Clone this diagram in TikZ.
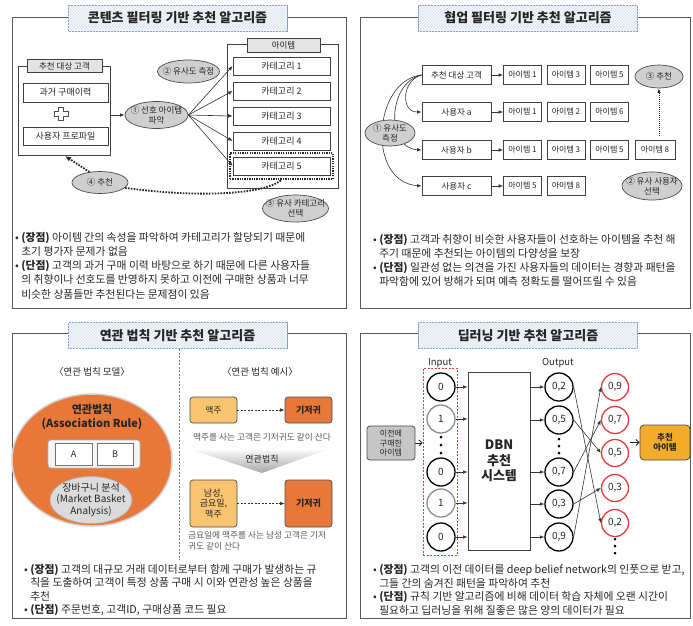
\documentclass[tikz,border=0pt]{standalone}
\usepackage{fontspec}
\setmainfont{Noto Sans CJK KR}
\usetikzlibrary{arrows.meta,shapes.geometric,patterns,calc}
\definecolor{ttlfill}{HTML}{E1E8F0}
\definecolor{ttldraw}{HTML}{7E9DC2}
\definecolor{ellfill}{HTML}{CFCFCF}
\definecolor{orng}{HTML}{E8783A}
\definecolor{lorng}{HTML}{F8C470}
\definecolor{goldc}{HTML}{F2AC2C}
\definecolor{redc}{HTML}{E63B3B}
\definecolor{txt}{HTML}{262626}
\newcommand{\fsz}[2]{\fontsize{#1}{#2}\selectfont}
\begin{document}
\begin{tikzpicture}[x=1pt,y=-1pt,
  every node/.style={text=txt, font=\fsz{9}{11}},
  panel/.style={draw=black!65, line width=0.9pt},
  ttl/.style={draw=ttldraw, line width=0.9pt, fill=ttlfill,
    postaction={pattern=north east lines, pattern color=white},
    minimum width=219, minimum height=26, inner sep=0, font=\bfseries\fsz{13}{15}},
  bx/.style={draw=black!75, fill=white, line width=0.7pt, inner sep=0},
  glbl/.style={draw=black!75, fill=gray!22, line width=0.7pt, inner sep=0},
  gel/.style={ellipse, draw=black!70, fill=ellfill, line width=0.7pt, inner sep=0},
  elt/.style={font=\fsz{8.5}{10}, align=center, text=txt, inner sep=0},
  arr/.style={-{Latex[length=4.5pt,width=3.5pt]}, line width=0.6pt, draw=black!80},
  dotln/.style={line width=1.8pt, dash pattern=on 1.6pt off 1.3pt, draw=black!85},
  bul/.style={anchor=north west, align=left, inner sep=0, font=\fsz{10.8}{14.2}},
  cat/.style={bx, minimum width=97, minimum height=18, font=\fsz{9}{11}},
  usr/.style={bx, minimum width=69, minimum height=19, font=\fsz{8.5}{10}},
  itm/.style={bx, minimum width=38, minimum height=19, font=\fsz{8}{10}},
  nc/.style={circle, draw=black, line width=1.3pt, minimum size=28, inner sep=0, fill=white, font=\fsz{10}{12}},
  nc1/.style={nc, draw=black!45},
  rc/.style={nc, draw=redc, minimum size=27},
  dsh/.style={-{Latex[length=4.5pt,width=3.5pt]}, line width=0.6pt, draw=black!80, dash pattern=on 2pt off 1.5pt},
  opn/.style={-{Straight Barb[length=3pt,width=6pt]}, line width=0.9pt, draw=black!85}
]
\useasboundingbox (0,0) rectangle (693,625);
\fill[white] (0,0) rectangle (693,625);

% ================= Panel 1 =================
\draw[panel] (12,17) rectangle (346,308);
\node[ttl] (t1) at (177.5,18) {콘텐츠 필터링 기반 추천 알고리즘};

\node[bx, minimum width=92, minimum height=89] (grp) at (64,110.5) {};
\node[glbl, minimum width=75, minimum height=12.5, font=\fsz{8.5}{10}] (grpl) at (64.5,66) {추천 대상 고객};
\node[bx, minimum width=85, minimum height=19, font=\fsz{9}{11}] (past) at (65.5,92.5) {과거 구매이력};
\node[bx, minimum width=85, minimum height=18, font=\fsz{9}{11}] (prof) at (65.5,136) {사용자 프로파일};
\draw[black!70, line width=0.7pt, fill=white] (58.5,107.5) -- (63.5,107.5) -- (63.5,111.5) -- (68,111.5) -- (68,116.5) -- (63.5,116.5) -- (63.5,120.5) -- (58.5,120.5) -- (58.5,116.5) -- (54,116.5) -- (54,111.5) -- (58.5,111.5) -- cycle;

\node[gel, minimum width=63, minimum height=27, label={[elt]center:{① 선호 아이템\\파악}}] (e1) at (156.5,115) {};
\node[gel, minimum width=62, minimum height=23, label={[elt]center:{② 유사도 측정}}] (e2) at (188.5,71.5) {};
\draw[arr] (grp.east |- e1) -- (e1.west);

\node[bx, minimum width=111, minimum height=144] (igrp) at (282.5,116) {};
\node[glbl, minimum width=73, minimum height=14, font=\fsz{8.5}{10}] (igrpl) at (283.5,45) {아이템};
\node[cat] (c1) at (281.5,66) {카테고리 1};
\node[cat] (c2) at (281.5,91) {카테고리 2};
\node[cat] (c3) at (281.5,116) {카테고리 3};
\node[cat] (c4) at (281.5,141) {카테고리 4};
\node[cat] (c5) at (281.5,166) {카테고리 5};
\node[draw=black!85, line width=1.6pt, dash pattern=on 1.3pt off 1.1pt, minimum width=103, minimum height=26, inner sep=0] (c5d) at (281.5,166) {};
\foreach \c in {c1,c2,c3,c4,c5} \draw[arr] (e1.east) -- (\c.west);

\node[gel, minimum width=56, minimum height=22, label={[elt]center:{④ 추천}}] (e4) at (100,182.5) {};
\node[gel, minimum width=66, minimum height=27, label={[elt]center:{③ 유사 카테고리\\선택}}] (e3) at (295.5,208.5) {};
\coordinate (g4) at (65,156);
\draw[dotln, -{Latex[length=6pt,width=5pt]}] (e4.135) -- (g4);
\draw[dotln] (e4.-12) .. controls (190,197) and (262,196) .. (c5d.south);

\node[bul] (b1) at (15,232) {• \textbf{(장점)} 아이템 간의 속성을 파악하여 카테고리가 할당되기 때문에\\
\phantom{• }초기 평가자 문제가 없음\\
• \textbf{(단점)} 고객의 과거 구매 이력 바탕으로 하기 때문에 다른 사용자들\\
\phantom{• }의 취향이나 선호도를 반영하지 못하고 이전에 구매한 상품과 너무\\
\phantom{• }비슷한 상품들만 추천된다는 문제점이 있음};

% ================= Panel 2 =================
\draw[panel] (360,17) rectangle (690,308);
\node[ttl] (t2) at (528,18) {협업 필터링 기반 추천 알고리즘};

\node[draw=black!75, line width=0.6pt, double, double distance=1.3pt, minimum width=262, minimum height=26, inner sep=0] (rowb) at (549,150) {};
\node[usr] (ut) at (456.5,75) {추천 대상 고객};
\node[usr] (ua) at (456.5,112) {사용자 a};
\node[usr] (ub) at (456.5,150) {사용자 b};
\node[usr] (uc) at (456.5,186) {사용자 c};
\node[itm] (t1i) at (522.5,75) {아이템 1};
\node[itm] (t2i) at (566,75) {아이템 3};
\node[itm] (t3i) at (609.5,75) {아이템 5};
\node[itm] (a1i) at (522.5,112) {아이템 1};
\node[itm] (a2i) at (566,112) {아이템 2};
\node[itm] (a3i) at (609.5,112) {아이템 6};
\node[itm] (b1i) at (522.5,150) {아이템 1};
\node[itm] (b2i) at (566,150) {아이템 3};
\node[itm] (b3i) at (609.5,150) {아이템 5};
\node[itm, minimum width=40] (b4i) at (655,150) {아이템 8};
\node[itm] (c1i) at (522.5,186) {아이템 5};
\node[itm] (c2i) at (566,186) {아이템 8};
\draw[arr] (ut.east) -- (t1i.west);
\draw[arr] (ua.east) -- (a1i.west);
\draw[arr] (ub.east) -- (b1i.west);
\draw[arr] (uc.east) -- (c1i.west);

\draw[arr] (ut.west) .. controls (402,80) and (400,112) .. (ua.west);
\draw[arr] (ut.west) .. controls (388,82) and (385,148) .. (ub.west);
\draw[arr] (ut.west) .. controls (373,80) and (366,182) .. (uc.west);
\node[gel, minimum width=50, minimum height=26, label={[elt]center:{① 유사도\\측정}}] (f1) at (390,133) {};

\node[gel, minimum width=48, minimum height=23, label={[elt]center:{③ 추천}}] (f3) at (659,76.5) {};
\node[gel, minimum width=60, minimum height=28, label={[elt]center:{② 유사 사용자\\선택}}] (f2) at (652,186) {};
\coordinate (rbtop) at (659,135.5);
\draw[-{Latex[length=4.5pt,width=3.5pt]}, line width=0.8pt, dash pattern=on 1pt off 1pt, draw=black!85] (rbtop) -- (f3.south);

\node[bul] (b2) at (373,234) {• \textbf{(장점)} 고객과 취향이 비슷한 사용자들이 선호하는 아이템을 추천 해\\
\phantom{• }주기 때문에 추천되는 아이템의 다양성을 보장\\
• \textbf{(단점)} 일관성 없는 의견을 가진 사용자들의 데이터는 경향과 패턴을\\
\phantom{• }파악함에 있어 방해가 되며 예측 정확도를 떨어뜨릴 수 있음};

% ================= Panel 3 =================
\draw[panel] (12,333) rectangle (346,618);
\node[ttl] (t3) at (177.5,335.5) {연관 법칙 기반 추천 알고리즘};
\draw[black!50, line width=0.7pt, dash pattern=on 2pt off 1.5pt] (179,349) -- (179,560);
\node[font=\fsz{9.5}{11}] (h1) at (92,372) {〈연관 법칙 모델〉};
\node[font=\fsz{9.5}{11}] (h2) at (260,372) {〈연관 법칙 예시〉};

\node[ellipse, fill=orng, draw=gray!35, line width=1.5pt, minimum width=160, minimum height=132] (big) at (92,460) {};
\node[font=\bfseries\fsz{11}{14}, align=center] (bigt) at (92,417) {연관법칙\\(Association Rule)};
\node[draw=gray!60, fill=gray!8, rounded corners=3pt, line width=0.8pt, minimum width=92, minimum height=28, inner sep=0] (abf) at (94,454) {};
\node[draw=black!55, fill=white, line width=0.7pt, minimum width=37, minimum height=22, inner sep=0] (ba) at (73.5,454) {A};
\node[draw=black!55, fill=white, line width=0.7pt, minimum width=36, minimum height=22, inner sep=0] (bb) at (115,454) {B};
\node[ellipse, fill=gray!28, draw=gray!60, line width=0.8pt, minimum width=82, minimum height=47, inner sep=0,
  label={[font=\fsz{10}{11.5}, align=center, inner sep=0]center:{장바구니 분석\\(Market Basket\\Analysis)}}] (mba) at (91,500) {};

\node[draw=black!70, fill=lorng, rounded corners=3pt, line width=0.7pt, minimum width=47, minimum height=26, inner sep=0, font=\fsz{8.5}{10}] (beer) at (213.5,410) {맥주};
\node[draw=black!70, fill=orng, rounded corners=3pt, line width=0.7pt, minimum width=47, minimum height=26, inner sep=0, font=\bfseries\fsz{9}{10}] (dia) at (308.5,410) {기저귀};
\draw[dsh] (beer.east) -- (dia.west);
\node[font=\fsz{8.7}{10}, text=black!65] (cap1) at (262,437) {맥주를 사는 고객은 기저귀도 같이 산다};
\shade[top color=gray!5, bottom color=gray!70] (193,450) -- (326,450) -- (262,473) -- cycle;
\node[font=\fsz{9}{10}] (rule) at (262,459) {연관법칙};
\node[draw=black!70, fill=lorng, rounded corners=3pt, line width=0.7pt, minimum width=47, minimum height=47, inner sep=0, font=\fsz{9}{10.5}, align=center] (mfb) at (213.5,503.5) {남성,\\금요일,\\맥주};
\node[draw=black!70, fill=orng, rounded corners=3pt, line width=0.7pt, minimum width=47, minimum height=47, inner sep=0, font=\bfseries\fsz{9}{10}] (dia2) at (308.5,503.5) {기저귀};
\draw[dsh] (mfb.east) -- (dia2.west);
\node[anchor=north west, align=left, inner sep=0, font=\fsz{8.7}{11}, text=black!65] (cap2) at (188,531) {금요일에 맥주를 사는 남성 고객은 기저\\귀도 같이 산다};

\node[bul, font=\fsz{10.8}{13.5}] (b3) at (24,564) {• \textbf{(장점)} 고객의 대규모 거래 데이터로부터 함께 구매가 발생하는 규\\
\phantom{• }칙을 도출하여 고객이 특정 상품 구매 시 이와 연관성 높은 상품을\\
\phantom{• }추천\\
• \textbf{(단점)} 주문번호, 고객ID, 구매상품 코드 필요};

% ================= Panel 4 =================
\draw[panel] (360,333) rectangle (690,618);
\node[ttl] (t4) at (528,335.5) {딥러닝 기반 추천 알고리즘};
\node[font=\fsz{9.5}{11}] (inl) at (440,363) {Input};
\node[font=\fsz{9.5}{11}] (outl) at (558,363) {Output};
\node[draw=redc, line width=0.7pt, dash pattern=on 2pt off 1.5pt, minimum width=34, minimum height=187, inner sep=0] (inbox) at (440,461.5) {};
\node[nc] (i1) at (441,387) {0};
\node[nc1] (i2) at (441,419) {1};
\node[nc] (i3) at (441,472) {0};
\node[nc1] (i4) at (441,503) {1};
\node[nc] (i5) at (441,537) {0};
\foreach \yy in {437,445,453} \fill[black] (441,\yy) circle (1.5);

\node[draw=black!75, line width=0.8pt, minimum width=62, minimum height=178, inner sep=0, font=\bfseries\fsz{13}{15.5}, align=center] (dbn) at (499,461) {DBN\\추천\\시스템};
\foreach \i in {i1,i2,i3,i4,i5} \draw[arr] (\i.east) -- (\i.east -| dbn.west);

\node[nc] (o1) at (559,387) {0,2};
\node[nc] (o2) at (559,420) {0,5};
\node[nc] (o3) at (559,472) {0,7};
\node[nc] (o4) at (559,504) {0,3};
\node[nc] (o5) at (559,537) {0,9};
\foreach \yy in {439,446,453} \fill[black] (559,\yy) circle (1.5);
\foreach \o in {o1,o2,o3,o4,o5} \draw[arr] (dbn.east |- \o.west) -- (\o.west);

\node[rc] (r1) at (615,387) {0,9};
\node[rc] (r2) at (615,420) {0,7};
\node[rc] (r3) at (615,453) {0,5};
\node[rc] (r4) at (615,488) {0,3};
\node[rc] (r5) at (615,523) {0,2};
\foreach \yy in {539,546,553} \fill[black] (615,\yy) circle (1.5);
\draw[arr] (o1.east) -- (r5.west);
\draw[arr] (o2.east) -- (r3.west);
\draw[arr] (o3.east) -- (r2.west);
\draw[arr] (o4.east) -- (r4.west);
\draw[arr] (o5.east) -- (r1.west);

\node[draw=black!70, fill=gray!45, rounded corners=3pt, line width=0.8pt, minimum width=48, minimum height=34, inner sep=0, align=center, font=\fsz{8}{9.5}] (prev) at (391,443) {이전에\\구매한\\아이템};
\draw[opn] (prev.east) -- (prev.east -| inbox.west);
\node[draw=black!70, fill=goldc, rounded corners=4pt, line width=0.8pt, minimum width=50, minimum height=35, inner sep=0, align=center, font=\bfseries\fsz{8.5}{10}] (rec) at (665,442.5) {추천\\아이템};
\coordinate (rcol) at (630,442.5);
\draw[opn] (rcol) -- (rec.west);

\node[bul, font=\fsz{10.8}{13.7}] (b4) at (373,564) {• \textbf{(장점)} 고객의 이전 데이터를 deep belief network의 인풋으로 받고,\\
\phantom{• }그들 간의 숨겨진 패턴을 파악하여 추천\\
• \textbf{(단점)} 규칙 기반 알고리즘에 비해 데이터 학습 자체에 오랜 시간이\\
\phantom{• }필요하고 딥러닝을 위해 질좋은 많은 양의 데이터가 필요};
\end{tikzpicture}
\end{document}
